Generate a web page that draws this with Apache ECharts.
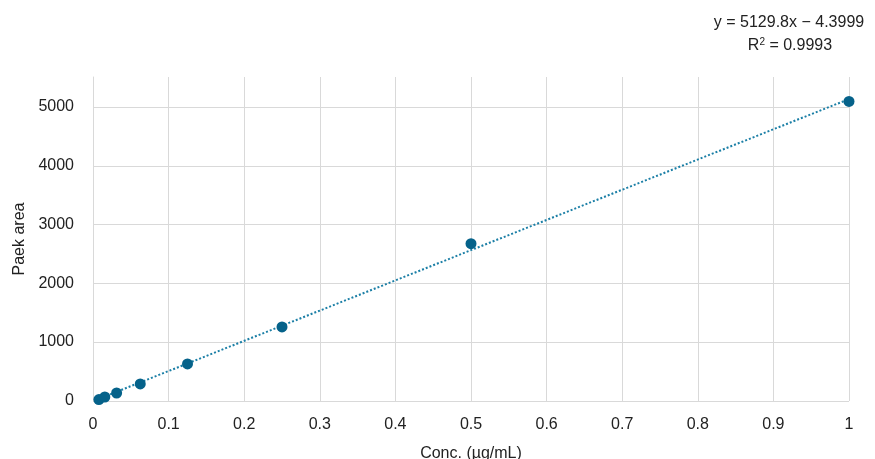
<!DOCTYPE html>
<html>
<head>
<meta charset="utf-8">
<script src="https://cdn.jsdelivr.net/npm/echarts@6/dist/echarts.min.js"></script>
<style>
  html, body { margin: 0; padding: 0; background: #fff; }
  #chart { width: 875px; height: 459px; }
</style>
</head>
<body>
<div id="chart"></div>
<script>
// calibration points
const conc = [0.0078125, 0.015625, 0.03125, 0.0625, 0.125, 0.25, 0.5, 1];
const peakArea = [25, 68, 136, 290, 630, 1258, 2670, 5085];

// linear fit shown in the chart
const slope = 5129.8;
const intercept = -4.3999;
const rSquared = '0.9993';

const fitX = [conc[0], conc[conc.length - 1]];

const font = '"Liberation Sans", Arial, sans-serif';
const textColor = '#222222';
const gridColor = '#d9d9d9';

const chart = echarts.init(document.getElementById('chart'));
chart.setOption({
  animation: false,
  textStyle: { fontFamily: font },
  grid: [
    { left: 93, right: 26, top: 77, bottom: 58, outerBoundsMode: 'none' },
    // second grid only carries the horizontal gridlines up to 5000
    { left: 93, right: 26, top: 107, bottom: 58, outerBoundsMode: 'none' },
  ],
  xAxis: [
    {
      type: 'value', gridIndex: 0, min: 0, max: 1, interval: 0.1,
      name: 'Conc. (µg/mL)', nameLocation: 'middle', nameGap: 45,
      nameTextStyle: { color: textColor, fontSize: 16, fontFamily: font },
      axisLine: { show: false },
      axisTick: { show: false },
      axisLabel: { color: textColor, fontSize: 16, margin: 16, fontFamily: font },
      splitLine: { show: true, lineStyle: { color: gridColor, width: 1 } },
    },
    {
      type: 'value', gridIndex: 1, min: 0, max: 1, show: false,
    },
  ],
  yAxis: [
    {
      type: 'value', gridIndex: 0, min: 0, max: 5500, interval: 1000,
      name: 'Paek area', nameLocation: 'middle', nameGap: 62,
      nameTextStyle: { color: textColor, fontSize: 16, fontFamily: font },
      axisLine: { show: true, lineStyle: { color: gridColor, width: 1 } },
      axisTick: { show: false },
      axisLabel: {
        color: textColor, fontSize: 16, margin: 19, showMaxLabel: false, fontFamily: font,
        formatter: v => String(v),
      },
      splitLine: { show: false },
    },
    {
      type: 'value', gridIndex: 1, min: 0, max: 5000, interval: 1000,
      axisLine: { show: false },
      axisTick: { show: false },
      axisLabel: { show: false },
      splitLine: { show: true, lineStyle: { color: gridColor, width: 1 } },
    },
  ],
  series: [
    {
      name: 'Linear fit',
      type: 'line',
      xAxisIndex: 0, yAxisIndex: 0,
      data: fitX.map(x => [x, slope * x + intercept]),
      showSymbol: false,
      lineStyle: { color: '#1b7fa6', width: 2, type: [2, 2] },
      z: 2,
    },
    {
      name: 'Peak area',
      type: 'scatter',
      xAxisIndex: 0, yAxisIndex: 0,
      data: conc.map((x, i) => [x, peakArea[i]]),
      symbolSize: 11,
      itemStyle: { color: '#05628a', opacity: 1 },
      z: 3,
    },
  ],
  graphic: [
    {
      type: 'text',
      x: 789, y: 23,
      style: {
        text: 'y = ' + slope + 'x − ' + Math.abs(intercept),
        align: 'center', verticalAlign: 'middle',
        fill: textColor,
        font: '16px ' + font,
      },
    },
    {
      type: 'text',
      x: 790, y: 46,
      style: {
        text: '{r|R}{sup|2}{r| = ' + rSquared + '}',
        align: 'center', verticalAlign: 'middle',
        fill: textColor,
        font: '16px ' + font,
        rich: {
          r: { fontSize: 16, fontFamily: font, fill: textColor },
          sup: { fontSize: 10, fontFamily: font, fill: textColor, verticalAlign: 'top', padding: [0, 0, 8, 0] },
        },
      },
    },
  ],
});
</script>
</body>
</html>
